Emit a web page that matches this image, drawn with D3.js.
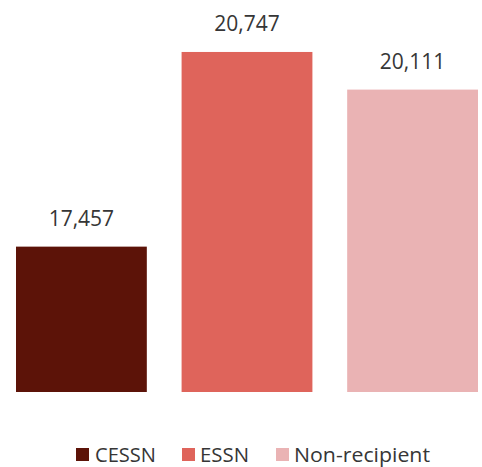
<!DOCTYPE html>
<html>
<head>
<meta charset="utf-8">
<script src="https://cdn.jsdelivr.net/npm/d3@7"></script>
<style>
  html, body { margin: 0; padding: 0; background: #fff; }
  svg { display: block; }
</style>
</head>
<body>
<svg id="chart" width="482" height="467"></svg>
<script>
// Average amounts by recipient group
const categories = ["CESSN", "ESSN", "Non-recipient"];
const values = [17457, 20747, 20111];
const colors = ["#5c1308", "#df645b", "#eab3b4"];
const yDomain = [15000, 21000];

const svg = d3.select("#chart");
const font = "'Open Sans', 'DejaVu Sans', sans-serif";

const x = d3.scaleBand()
  .domain(categories)
  .range([16, 478])
  .paddingInner(0.21)
  .paddingOuter(0);

const y = d3.scaleLinear()
  .domain(yDomain)
  .range([392, 37]);

const fmt = d3.format(",");

svg.selectAll("rect.bar")
  .data(categories)
  .join("rect")
  .attr("class", "bar")
  .attr("x", d => x(d))
  .attr("width", x.bandwidth())
  .attr("y", (d, i) => y(values[i]))
  .attr("height", (d, i) => y(yDomain[0]) - y(values[i]))
  .attr("fill", (d, i) => colors[i]);

svg.selectAll("text.value")
  .data(categories)
  .join("text")
  .attr("class", "value")
  .attr("x", d => x(d) + x.bandwidth() / 2)
  .attr("y", (d, i) => y(values[i]) - 21)
  .attr("text-anchor", "middle")
  .attr("font-family", font)
  .attr("font-size", 21)
  .attr("fill", "#363636")
  .text((d, i) => fmt(values[i]));

// Legend
const legendItems = [
  { sq: 76, tx: 95, w: 61 },
  { sq: 182, tx: 200, w: 49 },
  { sq: 276, tx: 294, w: 136 }
];
const lg = svg.append("g");
categories.forEach((c, i) => {
  const it = legendItems[i];
  lg.append("rect")
    .attr("x", it.sq).attr("y", 448)
    .attr("width", 13).attr("height", 13)
    .attr("fill", colors[i]);
  lg.append("text")
    .attr("x", it.tx).attr("y", 462)
    .attr("font-family", font)
    .attr("font-size", 20)
    .attr("fill", "#363636")
    .attr("textLength", it.w)
    .attr("lengthAdjust", "spacingAndGlyphs")
    .text(c);
});
</script>
</body>
</html>
